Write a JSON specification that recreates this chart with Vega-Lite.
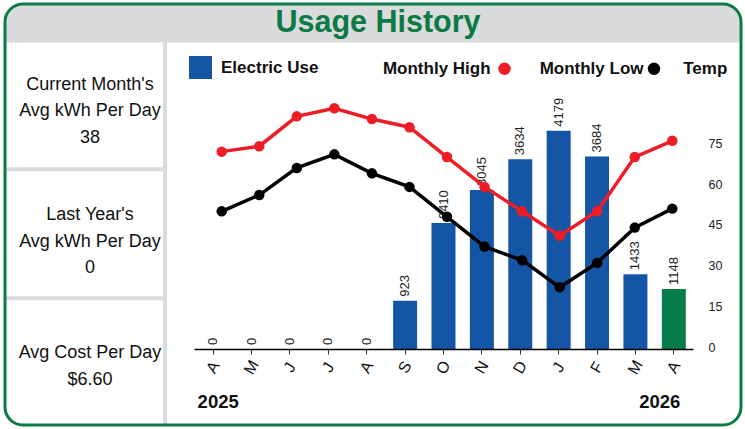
{
  "$schema": "https://vega.github.io/schema/vega-lite/v6.json",
  "width": 736,
  "height": 421,
  "autosize": {"type": "none"},
  "padding": {"left": 5, "top": 4, "right": 4, "bottom": 4},
  "background": "white",
  "config": {
    "view": {"stroke": null},
    "font": "Liberation Sans"
  },
  "datasets": {
    "months": [
      {"m": "2025-04", "kwh": 0, "high": 72, "low": 50, "kind": "Electric Use"},
      {"m": "2025-05", "kwh": 0, "high": 74, "low": 56, "kind": "Electric Use"},
      {"m": "2025-06", "kwh": 0, "high": 85, "low": 66, "kind": "Electric Use"},
      {"m": "2025-07", "kwh": 0, "high": 88, "low": 71, "kind": "Electric Use"},
      {"m": "2025-08", "kwh": 0, "high": 84, "low": 64, "kind": "Electric Use"},
      {"m": "2025-09", "kwh": 923, "high": 81, "low": 59, "kind": "Electric Use"},
      {"m": "2025-10", "kwh": 2410, "high": 70, "low": 48, "kind": "Electric Use"},
      {"m": "2025-11", "kwh": 3045, "high": 59, "low": 37, "kind": "Electric Use"},
      {"m": "2025-12", "kwh": 3634, "high": 50, "low": 32, "kind": "Electric Use"},
      {"m": "2026-01", "kwh": 4179, "high": 41, "low": 22, "kind": "Electric Use"},
      {"m": "2026-02", "kwh": 3684, "high": 50, "low": 31, "kind": "Electric Use"},
      {"m": "2026-03", "kwh": 1433, "high": 70, "low": 44, "kind": "Electric Use"},
      {"m": "2026-04", "kwh": 1148, "high": 76, "low": 51, "kind": "Current"}
    ],
    "panels": [
      {"key": "current", "col": "summary", "label": ["Current Month's", "Avg kWh Per Day", "38"]},
      {"key": "lastyear", "col": "summary", "label": ["Last Year's", "Avg kWh Per Day", "0"]},
      {"key": "cost", "col": "summary", "label": ["Avg Cost Per Day", "$6.60"]}
    ]
  },
  "layer": [
    {
      "data": {"values": [{}]},
      "mark": {"type": "rect", "fill": "#dadbdc", "cornerRadius": 18},
      "encoding": {}
    },
    {
      "data": {"name": "panels"},
      "mark": {"type": "rect", "fill": "white"},
      "encoding": {
        "x": {"field": "col", "type": "nominal", "axis": null,
              "scale": {"type": "band", "range": [0, 158], "paddingInner": 0, "paddingOuter": 0}},
        "y": {"field": "key", "type": "nominal", "axis": null, "sort": null,
              "scale": {"type": "band", "domain": ["current", "lastyear", "cost"], "range": [38.5, 421], "paddingInner": 0.031, "paddingOuter": 0}}
      }
    },
    {
      "data": {"values": [{"area": "chart"}]},
      "mark": {"type": "rect", "fill": "white"},
      "encoding": {
        "x": {"field": "area", "type": "nominal", "axis": null,
              "scale": {"type": "band", "range": [162, 736], "paddingInner": 0, "paddingOuter": 0}},
        "y": {"field": "area", "type": "nominal", "axis": null,
              "scale": {"type": "band", "range": [38.5, 421], "paddingInner": 0, "paddingOuter": 0}}
      }
    },
    {
      "data": {"values": [{"t": "Usage History"}]},
      "mark": {"type": "text", "fontWeight": "bold", "fontSize": 30.5, "color": "#0b7a45", "baseline": "middle", "dx": 5},
      "encoding": {
        "y": {"field": "t", "type": "nominal", "axis": null,
              "scale": {"type": "band", "range": [0, 38.5], "paddingInner": 0, "paddingOuter": 0}},
        "text": {"field": "t"}
      }
    },
    {
      "data": {"name": "panels"},
      "transform": [{"filter": "datum.key != 'cost'"}],
      "mark": {"type": "text", "fontSize": 18, "lineHeight": 26.7, "color": "#111", "baseline": "middle", "align": "center"},
      "encoding": {
        "x": {"field": "col", "type": "nominal", "axis": null,
              "scale": {"type": "band", "range": [0, 170], "paddingInner": 0, "paddingOuter": 0}},
        "y": {"field": "key", "type": "nominal", "axis": null, "sort": null,
              "scale": {"type": "point", "domain": ["current", "lastyear"], "range": [80.5, 211], "padding": 0}},
        "text": {"field": "label"}
      }
    },
    {
      "data": {"name": "panels"},
      "transform": [{"filter": "datum.key == 'cost'"}],
      "mark": {"type": "text", "fontSize": 18, "lineHeight": 26.7, "color": "#111", "baseline": "middle", "align": "center"},
      "encoding": {
        "x": {"field": "col", "type": "nominal", "axis": null,
              "scale": {"type": "band", "range": [0, 170], "paddingInner": 0, "paddingOuter": 0}},
        "y": {"field": "key", "type": "nominal", "axis": null,
              "scale": {"type": "band", "domain": ["cost"], "range": [341, 357], "paddingInner": 0, "paddingOuter": 0}},
        "text": {"field": "label"}
      }
    },
    {
      "data": {"name": "months"},
      "mark": {"type": "bar"},
      "encoding": {
        "x": {"field": "m", "type": "nominal", "sort": null,
              "scale": {"type": "band", "range": [189, 688], "paddingInner": 0.375, "paddingOuter": 0.1875},
              "axis": {"orient": "bottom", "offset": -76, "title": null, "grid": false, "zindex": 1,
                       "domainColor": "#000", "domainWidth": 1.5,
                       "tickColor": "#333", "tickSize": 5, "tickWidth": 1,
                       "labelExpr": "['J','F','M','A','M','J','J','A','S','O','N','D'][toNumber(slice(datum.value,5,7))-1]",
                       "labelAngle": -60, "labelAlign": "center", "labelBaseline": "middle", "labelPadding": 13,
                       "labelFontSize": 16, "labelColor": "#111"}},
        "y": {"field": "kwh", "type": "quantitative", "axis": null,
              "scale": {"domain": [0, 5000], "range": [345, 83.8], "nice": false}},
        "color": {"field": "kind", "type": "nominal",
                  "scale": {"domain": ["Electric Use", "Current"], "range": ["#1555a6", "#067c4a"]},
                  "legend": {"orient": "none", "legendX": 184, "legendY": 52, "values": ["Electric Use"], "title": null,
                             "symbolType": "square", "symbolSize": 529, "symbolStrokeWidth": 0,
                             "labelFontWeight": "bold",
                             "labelFontSize": 17, "labelColor": "#111", "labelOffset": 9, "padding": 0}}
      }
    },
    {
      "data": {"name": "months"},
      "mark": {"type": "text", "angle": 270, "align": "left", "baseline": "middle", "dx": 4,
               "fontSize": 13, "color": "#222"},
      "encoding": {
        "x": {"field": "m", "type": "nominal", "sort": null,
              "scale": {"type": "band", "range": [189, 688], "paddingInner": 0.375, "paddingOuter": 0.1875},
              "axis": {"orient": "bottom", "offset": -23.5, "title": null, "grid": false, "domain": false, "ticks": false, "tickSize": 0, "zindex": 1,
                       "values": ["2025-04", "2026-04"], "labelExpr": "slice(datum.value,0,4)",
                       "labelAngle": 0, "labelAlign": "center", "labelBaseline": "middle", "labelPadding": 0,
                       "labelOffset": {"condition": {"test": "datum.value == '2025-04'", "value": 5}, "value": -14},
                       "labelFontWeight": "bold", "labelFontSize": 18.5, "labelColor": "#111"}},
        "y": {"field": "kwh", "type": "quantitative", "axis": null,
              "scale": {"domain": [0, 5000], "range": [345, 83.8], "nice": false}},
        "text": {"field": "kwh", "type": "quantitative", "format": "d"}
      }
    },
    {
      "data": {"name": "months"},
      "mark": {"type": "line", "color": "#ee1c25", "strokeWidth": 3.5},
      "encoding": {
        "x": {"field": "m", "type": "nominal", "sort": null, "axis": null,
              "scale": {"type": "point", "range": [216.7, 667.3], "padding": 0}},
        "y": {"field": "high", "type": "quantitative",
              "scale": {"domain": [0, 90], "range": [343, 98.8], "nice": false},
              "axis": {"orient": "right", "offset": -33, "values": [0, 15, 30, 45, 60, 75], "domain": false, "ticks": false, "tickSize": 0, "zindex": 1,
                       "grid": false, "labelPadding": 0, "labelFontSize": 12.5, "labelColor": "#222",
                       "labelAlign": "left", "labelBaseline": "middle",
                       "title": "Temp", "titleAngle": 0, "titleX": -25.3, "titleY": 64.8, "titleAlign": "left", "titleBaseline": "middle",
                       "titleFontWeight": "bold", "titleFontSize": 17, "titleColor": "#111"}}
      }
    },
    {
      "data": {"name": "months"},
      "mark": {"type": "point", "filled": true, "size": 110, "opacity": 1},
      "encoding": {
        "x": {"field": "m", "type": "nominal", "sort": null, "axis": null,
              "scale": {"type": "point", "range": [216.7, 667.3], "padding": 0}},
        "y": {"field": "high", "type": "quantitative", "axis": null,
              "scale": {"domain": [0, 90], "range": [343, 98.8], "nice": false}},
        "color": {"datum": "Monthly High", "scale": {"domain": ["Monthly High"], "range": ["#ee1c25"]},
                  "legend": {"orient": "none", "legendX": 491, "legendY": 56.3, "title": null,
                             "symbolType": "circle", "symbolSize": 154, "symbolStrokeWidth": 0,
                             "labelAlign": "right", "labelOffset": -22.4,
                             "labelFontWeight": "bold",
                             "labelFontSize": 17, "labelColor": "#111", "padding": 0}}
      }
    },
    {
      "data": {"name": "months"},
      "mark": {"type": "line", "color": "#000000", "strokeWidth": 3.5},
      "encoding": {
        "x": {"field": "m", "type": "nominal", "sort": null, "axis": null,
              "scale": {"type": "point", "range": [216.7, 667.3], "padding": 0}},
        "y": {"field": "low", "type": "quantitative", "axis": null,
              "scale": {"domain": [0, 90], "range": [343, 98.8], "nice": false}}
      }
    },
    {
      "data": {"name": "months"},
      "mark": {"type": "point", "filled": true, "size": 110, "opacity": 1},
      "encoding": {
        "x": {"field": "m", "type": "nominal", "sort": null, "axis": null,
              "scale": {"type": "point", "range": [216.7, 667.3], "padding": 0}},
        "y": {"field": "low", "type": "quantitative", "axis": null,
              "scale": {"domain": [0, 90], "range": [343, 98.8], "nice": false}},
        "color": {"datum": "Monthly Low", "scale": {"domain": ["Monthly Low"], "range": ["#000000"]},
                  "legend": {"orient": "none", "legendX": 640.5, "legendY": 56.3, "title": null,
                             "symbolType": "circle", "symbolSize": 154, "symbolStrokeWidth": 0,
                             "labelAlign": "right", "labelOffset": -19,
                             "labelFontWeight": "bold",
                             "labelFontSize": 17, "labelColor": "#111", "padding": 0}}
      }
    },
    {
      "data": {"values": [{}]},
      "mark": {"type": "rect", "fill": "transparent", "stroke": "#0b7a45", "strokeWidth": 3, "cornerRadius": 18},
      "encoding": {}
    }
  ],
  "resolve": {
    "scale": {"x": "independent", "y": "independent", "color": "independent"},
    "axis": {"x": "independent", "y": "independent"},
    "legend": {"color": "independent"}
  }
}
